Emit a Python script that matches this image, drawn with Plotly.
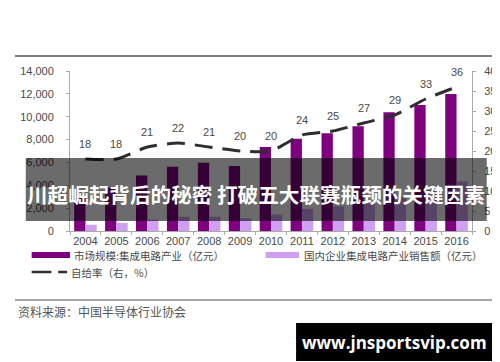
import plotly.graph_objects as go

years = ["2004", "2005", "2006", "2007", "2008", "2009", "2010",
         "2011", "2012", "2013", "2014", "2015", "2016"]
market = [2900, 3800, 4860, 5620, 5970, 5680, 7350, 8070, 8560, 9170, 10390, 11020, 11990]
domestic = [545, 702, 1006, 1251, 1246, 1109, 1440, 1934, 2158, 2509, 3015, 3610, 4336]
ratio = [18, 18, 21, 22, 21, 20, 20, 24, 25, 27, 29, 33, 36]

name_market = "市场规模:集成电路产业（亿元）"
name_domestic = "国内企业集成电路产业销售额（亿元）"
name_ratio = "自给率（右，%）"
left_ticks = [0, 2000, 4000, 6000, 8000, 10000, 12000, 14000]
right_ticks = [0, 5, 10, 15, 20, 25, 30, 35, 40]

W, H = 500, 362
L, R, T, B = 61, 30, 63, 139
PW, PH = W - L - R, H - T - B


def px(x):
    return (x - L) / PW


def py(y):
    return (H - B - y) / PH


C_DARK = "#7E007E"
C_LIGHT = "#CFA0F2"
C_LINE = "#2e2e2e"
TXT = "#4a4a4a"
SANS = "Liberation Sans, Arial, sans-serif"
CJK = "Noto Sans CJK SC, sans-serif"

fig = go.Figure()
fig.add_trace(go.Bar(x=years, y=market, name=name_market, marker_color=C_DARK,
                     marker_line_width=0))
fig.add_trace(go.Bar(x=years, y=domestic, name=name_domestic, marker_color=C_LIGHT,
                     marker_line_width=0))
fig.add_trace(go.Scatter(x=years, y=ratio, name=name_ratio, yaxis="y2", mode="lines",
                         line=dict(color=C_LINE, width=3, dash="18px,10px", shape="spline",
                                   smoothing=0.6)))

annotations = []
for i, v in enumerate(ratio):
    annotations.append(dict(x=i, y=v, xref="x", yref="y2", text=str(v), showarrow=False,
                            yshift=15, font=dict(family=SANS, size=11, color=TXT)))

shapes = []
# top and bottom separators
shapes.append(dict(type="line", xref="paper", yref="paper", x0=px(5), x1=px(496),
                   y0=py(48), y1=py(48), line=dict(color="#555555", width=1.5)))
shapes.append(dict(type="line", xref="paper", yref="paper", x0=px(5), x1=px(496),
                   y0=py(292), y1=py(292), line=dict(color="#888888", width=1.5)))
# legend swatches
shapes.append(dict(type="rect", xref="paper", yref="paper", x0=px(22), x1=px(61),
                   y0=py(250), y1=py(244), fillcolor=C_DARK, line=dict(width=0)))
shapes.append(dict(type="rect", xref="paper", yref="paper", x0=px(260), x1=px(294),
                   y0=py(250), y1=py(244), fillcolor=C_LIGHT, line=dict(width=0)))
shapes.append(dict(type="line", xref="paper", yref="paper", x0=px(22), x1=px(42),
                   y0=py(264), y1=py(264), line=dict(color=C_LINE, width=2.5)))
shapes.append(dict(type="line", xref="paper", yref="paper", x0=px(49), x1=px(58),
                   y0=py(264), y1=py(264), line=dict(color=C_LINE, width=2.5)))
# overlay banner
shapes.append(dict(type="rect", xref="paper", yref="paper", x0=px(16), x1=px(485),
                   y0=py(213), y1=py(150), fillcolor="rgba(0,0,0,0.58)", line=dict(width=0),
                   layer="above"))
# watermark box
shapes.append(dict(type="rect", xref="paper", yref="paper", x0=px(291), x1=px(491),
                   y0=py(353), y1=py(315), fillcolor="#000000", line=dict(width=0),
                   layer="above"))

annotations += [
    dict(x=px(63), y=py(247), xref="paper", yref="paper", text=name_market, showarrow=False,
         xanchor="left", yanchor="middle", font=dict(family=CJK, size=10.5, color=TXT)),
    dict(x=px(297), y=py(247), xref="paper", yref="paper", text=name_domestic, showarrow=False,
         xanchor="left", yanchor="middle", font=dict(family=CJK, size=10.5, color=TXT)),
    dict(x=px(60), y=py(264), xref="paper", yref="paper", text=name_ratio, showarrow=False,
         xanchor="left", yanchor="middle", font=dict(family=CJK, size=10.5, color=TXT)),
    dict(x=px(6), y=py(303), xref="paper", yref="paper", text="资料来源：中国半导体行业协会",
         showarrow=False, xanchor="left", yanchor="middle",
         font=dict(family=CJK, size=12, color="#555555")),
    dict(x=px(250.5), y=py(186), xref="paper", yref="paper",
         text="<b>川超崛起背后的秘密 打破五大联赛瓶颈的关键因素</b>", showarrow=False,
         xanchor="center", yanchor="middle", font=dict(family=CJK, size=20.6, color="#ffffff")),
    dict(x=px(391), y=py(334), xref="paper", yref="paper", text="<b>www.jnsportsvip.com</b>",
         showarrow=False, xanchor="center", yanchor="middle",
         font=dict(family="Open Sans, Noto Sans, sans-serif", size=17, color="#ffffff")),
]

fig.update_layout(
    width=W, height=H,
    margin=dict(l=L, r=R, t=T, b=B, pad=0),
    paper_bgcolor="#ffffff", plot_bgcolor="#ffffff",
    barmode="group", bargap=0.27, bargroupgap=0,
    showlegend=False,
    xaxis=dict(type="category", range=[-0.5, len(years) - 0.5], showline=True,
               linecolor="#aaaaaa", linewidth=1, tickangle=0,
               ticks="outside", ticklen=3, tickcolor="#aaaaaa", tickson="boundaries",
               tickfont=dict(family=SANS, size=11, color=TXT), showgrid=False),
    yaxis=dict(range=[0, 14000], tickvals=left_ticks, tickformat=",", showline=True,
               linecolor="#aaaaaa", linewidth=1, ticks="outside", ticklen=3,
               tickcolor="#aaaaaa", showgrid=False, zeroline=False, ticklabelstandoff=10,
               tickfont=dict(family=SANS, size=11, color=TXT)),
    yaxis2=dict(range=[0, 40], tickvals=right_ticks, overlaying="y", side="right",
                showline=True, linecolor="#aaaaaa", linewidth=1, ticks="outside", ticklen=3,
                tickcolor="#aaaaaa", showgrid=False, zeroline=False, ticklabelstandoff=6,
                tickfont=dict(family=SANS, size=11, color=TXT)),
    shapes=shapes,
    annotations=annotations,
)

fig.write_html("out.html")
